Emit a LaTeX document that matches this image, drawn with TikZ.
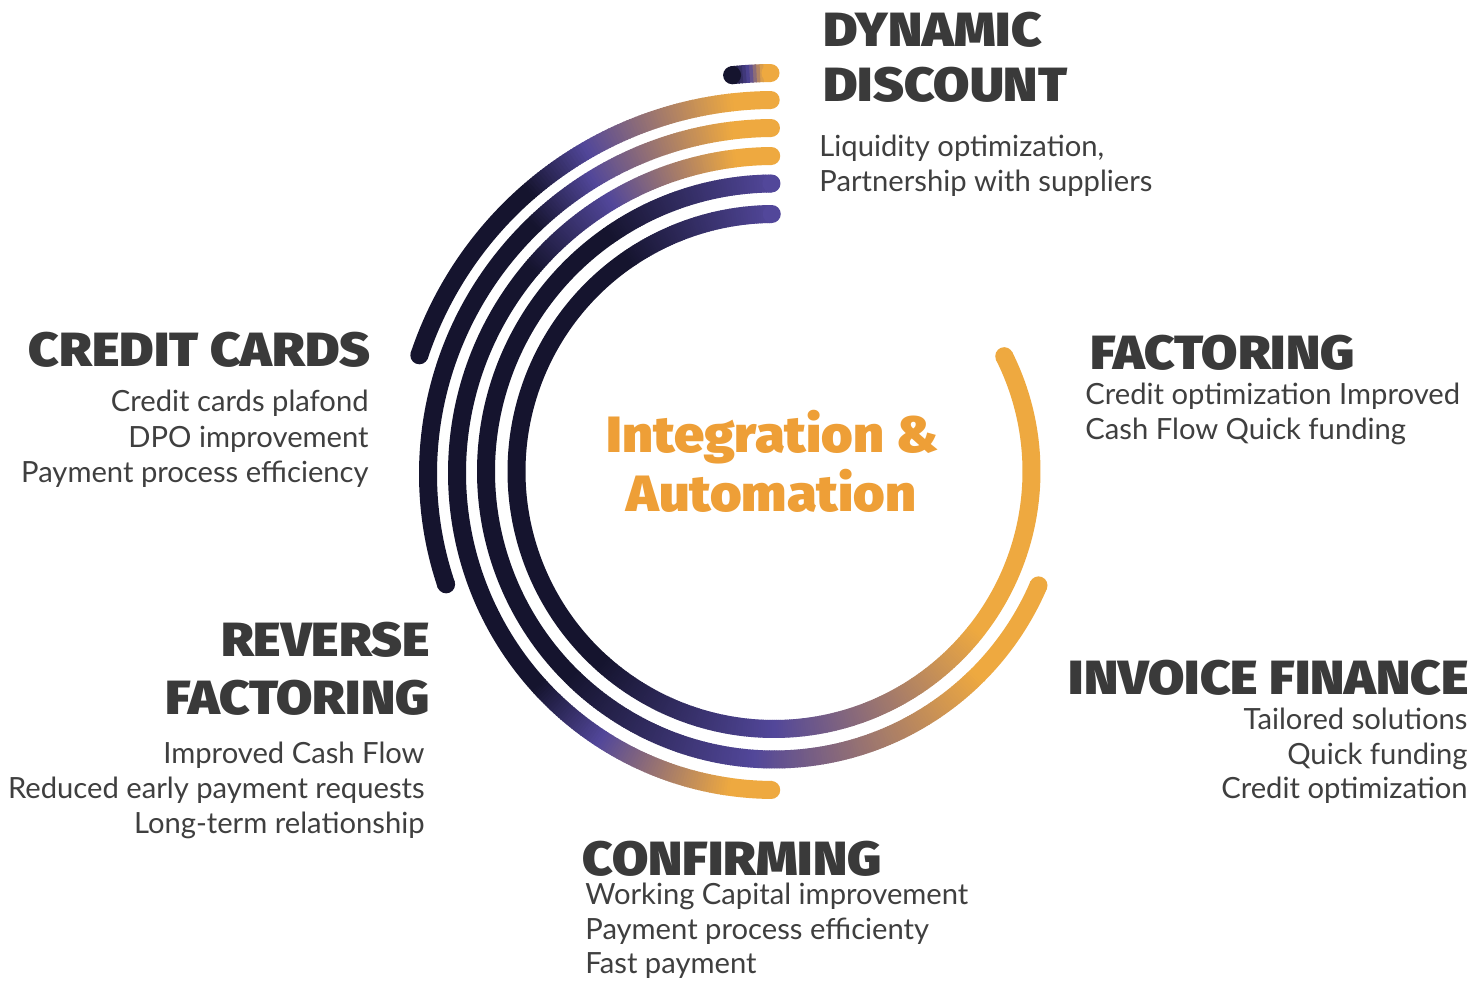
\documentclass[tikz,border=0pt]{standalone}
\usepackage{fontspec}
\newfontfamily\bodyfont{Lato}
\newfontfamily\heavyfont{Fira Sans Black}[FakeStretch=1.095]
\newfontfamily\ttlfont{Fira Sans Black}[FakeStretch=1.06]
\definecolor{navy}{HTML}{15142E}
\definecolor{purp}{HTML}{52479A}
\definecolor{orng}{HTML}{EEA940}
\definecolor{titleor}{HTML}{EE9F37}
\definecolor{headc}{HTML}{3A3A3A}
\definecolor{bodyc}{HTML}{3F3F3F}
\tikzset{
  arcline/.style={line width=9pt, line cap=butt},
  head/.style={inner sep=0pt, text=headc, font=\heavyfont\fontsize{24}{28}\selectfont},
  body/.style={inner sep=0pt, text=bodyc, font=\bodyfont\fontsize{14.6}{17}\selectfont},
  ttl/.style={inner sep=0pt, text=titleor, font=\ttlfont\fontsize{25.5}{30}\selectfont},
}
% gradient arc piece: center, radius, a1, a2, c1, c2
\newcommand{\arcgrad}[6]{%
  \pgfmathtruncatemacro{\gn}{max(1,ceil((#4-#3)*2))}%
  \foreach \gi in {1,...,\gn}{%
    \pgfmathsetmacro{\ga}{#3+(#4-#3)*(\gi-1)/\gn}%
    \pgfmathsetmacro{\gb}{#3+(#4-#3)*\gi/\gn+0.15}%
    \pgfmathsetmacro{\gp}{100*(\gi-0.5)/\gn}%
    \draw[arcline, draw={#6!\gp!#5}] (#1) ++(\ga:#2) arc[start angle=\ga, end angle=\gb, radius=#2];
  }}
\newcommand{\arcsolid}[5]{%
  \draw[arcline, draw=#5] (#1) ++(#3:#2) arc[start angle=#3, end angle=#4+0.15, radius=#2];}
\newcommand{\arccap}[4]{%
  \fill[#4] (#1) ++(#3:#2) circle[radius=9];}
\begin{document}
\begin{tikzpicture}[x=0.5pt,y=0.5pt]
\useasboundingbox (0,0) rectangle (1473,983);
\fill[white] (0,0) rectangle (1473,983);
\coordinate (C1) at (774,511.5);
\coordinate (C3) at (774,510);
\coordinate (C4) at (774,509);
% arc 1
\arcgrad{C1}{257.5}{90.5}{125}{purp}{navy}
\arcsolid{C1}{257.5}{125}{228}{navy}
\arcgrad{C1}{257.5}{228}{270}{navy}{purp}
\arcgrad{C1}{257.5}{270}{322}{purp}{orng}
\arcsolid{C1}{257.5}{322}{386.6}{orng}
\arccap{C1}{257.5}{90.5}{purp}
\arccap{C1}{257.5}{386.6}{orng}
% arc 2
\arcgrad{C1}{288}{90.5}{125}{purp}{navy}
\arcsolid{C1}{288}{125}{225}{navy}
\arcgrad{C1}{288}{225}{266}{navy}{purp}
\arcgrad{C1}{288}{266}{315}{purp}{orng}
\arcsolid{C1}{288}{315}{336.7}{orng}
\arccap{C1}{288}{90.5}{purp}
\arccap{C1}{288}{336.7}{orng}
% arc 3
\arcsolid{C3}{317}{90.5}{97}{orng}
\arcgrad{C3}{317}{97}{121}{orng}{purp}
\arcgrad{C3}{317}{121}{140}{purp}{navy}
\arcsolid{C3}{317}{140}{222}{navy}
\arcgrad{C3}{317}{222}{237}{navy}{purp}
\arcgrad{C3}{317}{237}{262}{purp}{orng}
\arcsolid{C3}{317}{262}{269.5}{orng}
\arccap{C3}{317}{90.5}{orng}
\arccap{C3}{317}{269.5}{orng}
% arc 4
\arcsolid{C4}{346}{90.5}{97}{orng}
\arcgrad{C4}{346}{97}{121.6}{orng}{purp}
\arcgrad{C4}{346}{121.6}{134}{purp}{navy}
\arcsolid{C4}{346}{134}{198.6}{navy}
\arccap{C4}{346}{90.5}{orng}
\arccap{C4}{346}{198.6}{navy}
% arc 5
\arcsolid{C4}{374}{90.5}{96.3}{orng}
\arcgrad{C4}{374}{96.3}{120}{orng}{purp}
\arcgrad{C4}{374}{120}{131}{purp}{navy}
\arcsolid{C4}{374}{131}{161.5}{navy}
\arccap{C4}{374}{90.5}{orng}
\arccap{C4}{374}{161.5}{navy}
% arc 6
\arcsolid{C4}{401}{90.5}{91.5}{orng}
\arcgrad{C4}{401}{91.5}{93.5}{orng}{purp}
\arcgrad{C4}{401}{93.5}{96}{purp}{navy}
\arccap{C4}{401}{90.5}{orng}
\arccap{C4}{401}{96}{navy}
% centre title
\node[ttl, anchor=base] (t1) at (772.5,530) {Integration \&};
\node[ttl, anchor=base] (t2) at (771.5,471) {Automation};
% dynamic discount
\node[head, anchor=base west] (dd1) at (823,936) {DYNAMIC};
\node[head, anchor=base west] (dd2) at (823,881) {DISCOUNT};
\node[body, anchor=base west] (dd3) at (819,826) {Liquidity optimization,};
\node[body, anchor=base west] (dd4) at (819,791) {Partnership with suppliers};
% credit cards
\node[head, anchor=base east] (cc1) at (371,616) {CREDIT CARDS};
\node[body, anchor=base east] (cc2) at (369,571) {Credit cards plafond};
\node[body, anchor=base east] (cc3) at (369,535) {DPO improvement};
\node[body, anchor=base east] (cc4) at (369,500) {Payment process efficiency};
% reverse factoring
\node[head, anchor=base east] (rf1) at (430,326) {REVERSE};
\node[head, anchor=base east] (rf2) at (430,268) {FACTORING};
\node[body, anchor=base east] (rf3) at (425,219) {Improved Cash Flow};
\node[body, anchor=base east] (rf4) at (425,184) {Reduced early payment requests};
\node[body, anchor=base east] (rf5) at (425,149) {Long-term relationship};
% factoring
\node[head, anchor=base west] (fa1) at (1090,613) {FACTORING};
\node[body, anchor=base west] (fa2) at (1085,578) {Credit optimization Improved};
\node[body, anchor=base west] (fa3) at (1085,543) {Cash Flow Quick funding};
% invoice finance
\node[head, anchor=base east] (if1) at (1469,288) {INVOICE FINANCE};
\node[body, anchor=base east] (if2) at (1468,253) {Tailored solutions};
\node[body, anchor=base east] (if3) at (1468,218) {Quick funding};
\node[body, anchor=base east] (if4) at (1468,184) {Credit optimization};
% confirming
\node[head, anchor=base west] (cf1) at (582,107) {CONFIRMING};
\node[body, anchor=base west] (cf2) at (585,78) {Working Capital improvement};
\node[body, anchor=base west] (cf3) at (585,43) {Payment process efficienty};
\node[body, anchor=base west] (cf4) at (585,9) {Fast payment};
\end{tikzpicture}
\end{document}
